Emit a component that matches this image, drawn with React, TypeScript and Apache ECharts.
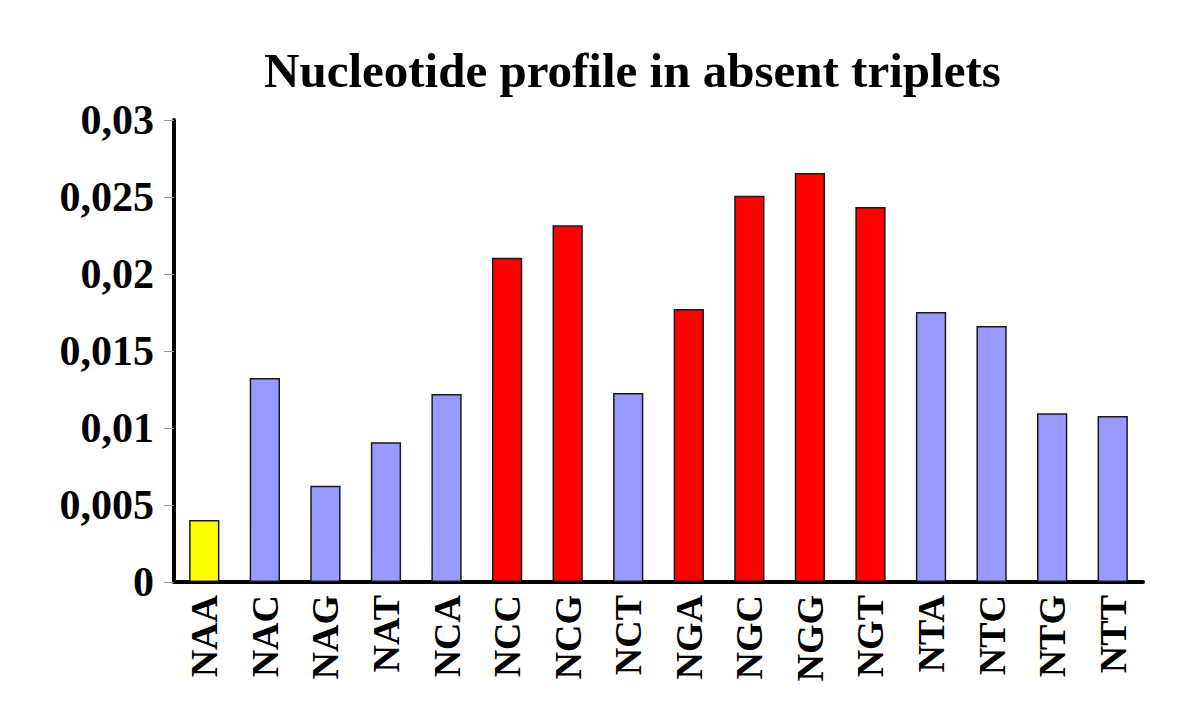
import React, { useEffect, useRef } from "react";
import * as echarts from "echarts";

const categories = ["NAA", "NAC", "NAG", "NAT", "NCA", "NCC", "NCG", "NCT", "NGA", "NGC", "NGG", "NGT", "NTA", "NTC", "NTG", "NTT"];
const values = [0.00403, 0.01325, 0.00625, 0.00907, 0.01221, 0.02106, 0.02316, 0.01227, 0.01773, 0.02508, 0.02656, 0.02435, 0.01753, 0.01662, 0.01095, 0.01078];
const colorGroups = ["yellow", "blue", "blue", "blue", "blue", "red", "red", "blue", "red", "red", "red", "red", "blue", "blue", "blue", "blue"];
const palette: Record<string, string> = { yellow: "#FFFF00", blue: "#9999FF", red: "#FF0000" };
const titleText = "Nucleotide profile in absent triplets";

const FONT = "'Liberation Serif', 'Times New Roman', serif";

export default function App() {
  const ref = useRef<HTMLDivElement>(null);
  useEffect(() => {
    if (!ref.current) return;
    const chart = echarts.init(ref.current, null, { renderer: "svg" });
    chart.setOption({
      animation: false,
      backgroundColor: "#ffffff",
      title: {
        text: titleText,
        left: 264,
        top: 46,
        padding: 0,
        textStyle: { fontFamily: FONT, fontWeight: "bold", fontSize: 49, color: "#000" },
      },
      grid: { left: 174, right: 57, top: 120, bottom: 146, containLabel: false, outerBoundsMode: "none" },
      xAxis: {
        type: "category",
        data: categories,
        boundaryGap: true,
        axisLine: { show: true, lineStyle: { color: "#000", width: 4 } },
        axisTick: { show: false },
        axisLabel: {
          rotate: 90,
          interval: 0,
          margin: 13,
          fontFamily: FONT,
          fontWeight: "bold",
          fontSize: 38,
          color: "#000",
        },
      },
      yAxis: {
        type: "value",
        min: 0,
        max: 0.03,
        interval: 0.005,
        splitLine: { show: false },
        axisLine: { show: true, lineStyle: { color: "#000", width: 4 } },
        axisTick: { show: true, length: 10, lineStyle: { color: "#999", width: 1 } },
        axisLabel: {
          margin: 20,
          fontFamily: FONT,
          fontWeight: "bold",
          fontSize: 42,
          color: "#000",
          formatter: (v: number) => (v === 0 ? "0" : String(+v.toFixed(3)).replace(".", ",")),
        },
      },
      series: [
        {
          type: "bar",
          barWidth: "50%",
          data: values.map((v, i) => ({
            value: v,
            itemStyle: { color: palette[colorGroups[i]], borderColor: "#1a1a1a", borderWidth: 1.5 },
          })),
        },
      ],
    });
    return () => chart.dispose();
  }, []);
  return <div ref={ref} style={{ width: 1200, height: 728, position: "absolute", left: 0, top: 0 }} />;
}
